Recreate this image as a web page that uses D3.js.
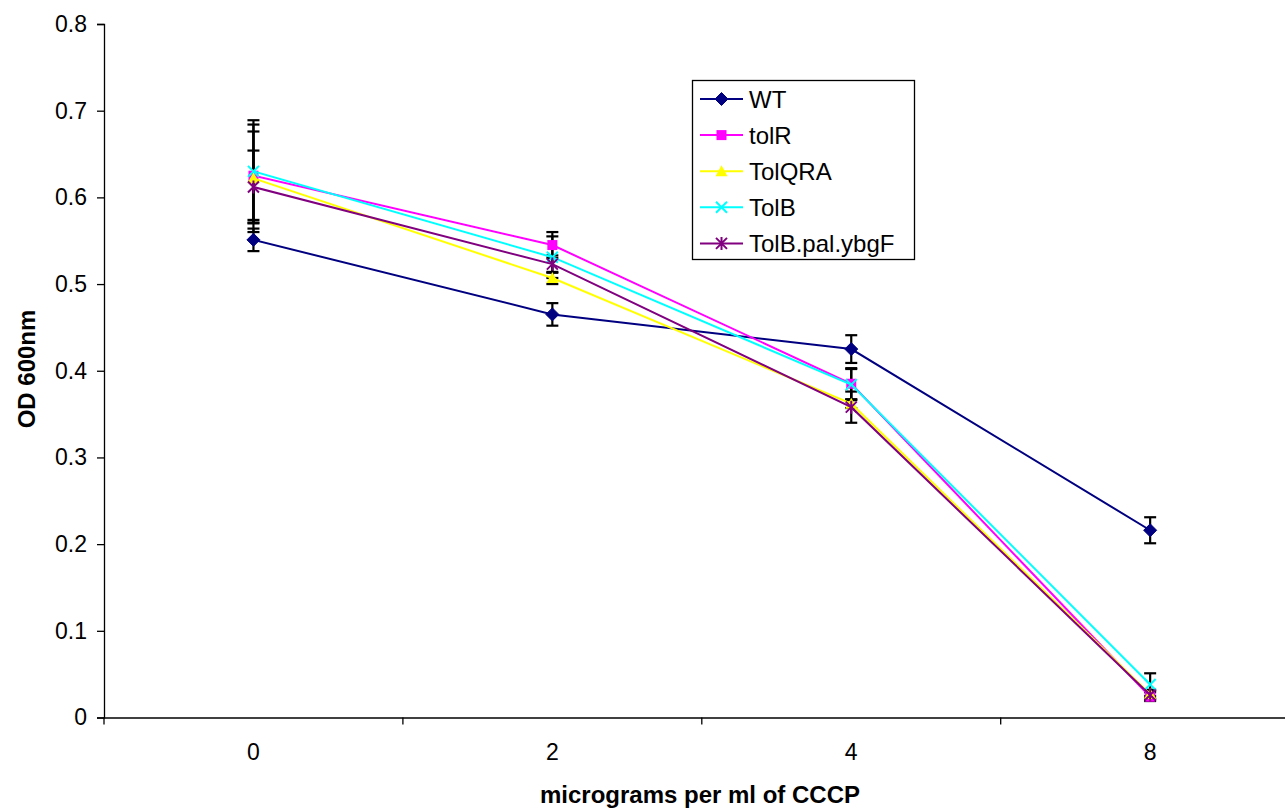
<!DOCTYPE html>
<html><head><meta charset="utf-8">
<script src="https://cdn.jsdelivr.net/npm/d3@7"></script>
<style>body{margin:0;background:#fff;}svg{display:block;font-family:"Liberation Sans",Arial,sans-serif;}</style>
</head><body>
<svg id="chart" width="1285" height="811"></svg>
<script>
const categories = ["0","2","4","8"];
const seriesNames = ["WT","tolR","TolQRA","TolB","TolB.pal.ybgF"];
const WT      = [0.551, 0.465, 0.425, 0.216];
const tolR    = [0.625, 0.545, 0.385, 0.024];
const TolQRA  = [0.622, 0.507, 0.362, 0.027];
const TolB    = [0.630, 0.531, 0.384, 0.038];
const TolBpal = [0.612, 0.523, 0.358, 0.026];
const errWT      = [0.013, 0.013, 0.016, 0.015];
const errTolR    = [0.051, 0.015, 0.018, 0.005];
const errTolQRA  = [0.062, 0.007, 0.005, 0.005];
const errTolB    = [0.059, 0.024, 0.018, 0.013];
const errTolBpal = [0.042, 0.010, 0.018, 0.005];
const yTicks = [0,0.1,0.2,0.3,0.4,0.5,0.6,0.7,0.8];

const colors = ["#000080","#FF00FF","#FFFF00","#00FFFF","#800080"];
const symbols = ["diamond","square","triangle","x","star"];
const values = [WT,tolR,TolQRA,TolB,TolBpal];
const errors = [errWT,errTolR,errTolQRA,errTolB,errTolBpal];

const svg = d3.select("#chart");
const x = d3.scaleBand().domain(categories).range([104, 1299.6]);
const y = d3.scaleLinear().domain([0,0.8]).range([717.5, 24]);

// axes
const yAxis = svg.append("g").attr("transform","translate(104,0)")
  .call(d3.axisLeft(y).tickValues(yTicks).tickSize(7).tickPadding(10).tickFormat(d => d===0 ? "0" : d3.format(".1f")(d)));
const xAxis = svg.append("g").attr("transform","translate(0,717.5)")
  .call(d3.axisBottom(x).tickSize(0).tickPadding(26));
// x tick marks at band boundaries
xAxis.selectAll(".bound").data(categories.concat(["end"])).enter().append("line")
  .attr("x1",(d,i)=> 104 + i*x.step()).attr("x2",(d,i)=> 104 + i*x.step())
  .attr("y1",0).attr("y2",7).attr("stroke","#000").attr("stroke-width",1.3);
[yAxis,xAxis].forEach(g=>{
  g.select(".domain").attr("stroke","#000").attr("stroke-width",1.3);
  g.selectAll(".tick line").attr("stroke","#000").attr("stroke-width",1.3);
  g.selectAll("text").attr("font-size","23px").attr("fill","#000").attr("font-family","Liberation Sans, Arial, sans-serif");
});

// titles
svg.append("text").attr("x",700).attr("y",803).attr("text-anchor","middle")
  .attr("font-size","24px").attr("font-weight","bold").text("micrograms per ml of CCCP");
svg.append("text").attr("transform","translate(35,369) rotate(-90)").attr("text-anchor","middle")
  .attr("font-size","24px").attr("font-weight","bold").text("OD 600nm");

const cx = c => x(c) + x.bandwidth()/2;

// error bars
values.forEach((vals,si)=>{
  const g = svg.append("g");
  vals.forEach((v,i)=>{
    const e = errors[si][i], X = cx(categories[i]);
    g.append("line").attr("x1",X).attr("x2",X).attr("y1",y(v+e)).attr("y2",y(v-e)).attr("stroke","#000").attr("stroke-width",2.2);
    [v+e,v-e].forEach(t=> g.append("line").attr("x1",X-6).attr("x2",X+6).attr("y1",y(t)).attr("y2",y(t)).attr("stroke","#000").attr("stroke-width",2.2));
  });
});

function drawMarker(g, type, color, X, Y){
  if(type==="diamond"){
    g.append("path").attr("d",`M${X},${Y-6.5}L${X+6.5},${Y}L${X},${Y+6.5}L${X-6.5},${Y}Z`).attr("fill",color).attr("stroke",color).attr("stroke-width",1);
  } else if(type==="square"){
    g.append("rect").attr("x",X-5).attr("y",Y-5).attr("width",10).attr("height",10).attr("fill",color);
  } else if(type==="triangle"){
    g.append("path").attr("d",`M${X},${Y-6}L${X+6},${Y+5}L${X-6},${Y+5}Z`).attr("fill",color);
  } else if(type==="x"){
    g.append("path").attr("d",`M${X-5.5},${Y-5.5}L${X+5.5},${Y+5.5}M${X+5.5},${Y-5.5}L${X-5.5},${Y+5.5}`).attr("stroke",color).attr("stroke-width",2);
  } else if(type==="star"){
    g.append("path").attr("d",`M${X-5.5},${Y-5.5}L${X+5.5},${Y+5.5}M${X+5.5},${Y-5.5}L${X-5.5},${Y+5.5}M${X},${Y-6.5}L${X},${Y+6.5}`).attr("stroke",color).attr("stroke-width",2);
  }
}

const line = d3.line().x((d,i)=>cx(categories[i])).y(d=>y(d));
values.forEach((vals,si)=>{
  const g = svg.append("g");
  g.append("path").datum(vals).attr("d",line).attr("fill","none").attr("stroke",colors[si]).attr("stroke-width",2);
  vals.forEach((v,i)=> drawMarker(g, symbols[si], colors[si], cx(categories[i]), y(v)));
});

// legend
const lg = svg.append("g");
lg.append("rect").attr("x",692.5).attr("y",80.5).attr("width",222).attr("height",179).attr("fill","#fff").attr("stroke","#000").attr("stroke-width",1.3);
seriesNames.forEach((n,i)=>{
  const Y = 99 + i*36.1;
  lg.append("line").attr("x1",700).attr("x2",743).attr("y1",Y).attr("y2",Y).attr("stroke",colors[i]).attr("stroke-width",2);
  drawMarker(lg, symbols[i], colors[i], 721.5, Y);
  lg.append("text").attr("x",749).attr("y",Y+8.5).attr("font-size","24px").attr("fill","#000").text(n);
});
</script>
</body></html>
